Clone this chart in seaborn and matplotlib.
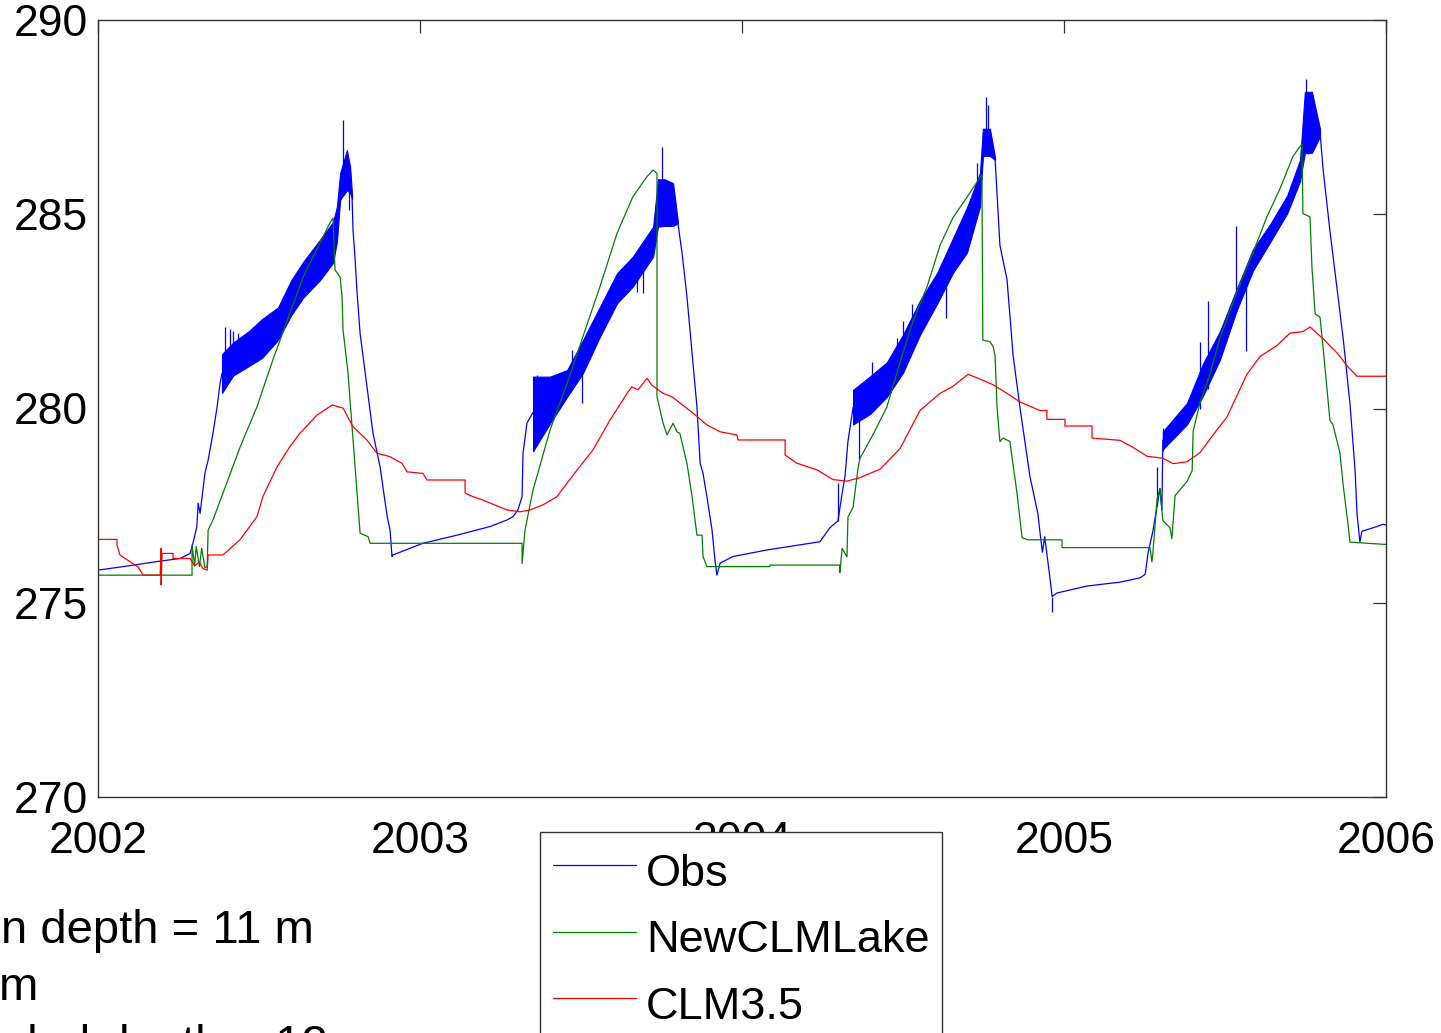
import numpy as np
import pandas as pd
import matplotlib
matplotlib.use("Agg")
import matplotlib.pyplot as plt
import seaborn as sns

# ---------------------------------------------------------------
# Lake temperature at depth (K), 2002-2006
# ---------------------------------------------------------------
obs_t = [2002.000, 2002.078, 2002.183, 2002.255, 2002.286, 2002.295, 2002.307, 2002.311,
         2002.317, 2002.332, 2002.342, 2002.357, 2002.370, 2002.379, 2002.385, 2002.420,
         2002.470, 2002.509, 2002.559, 2002.600, 2002.637, 2002.689, 2002.730, 2002.742,
         2002.752, 2002.773, 2002.783, 2002.789, 2002.792, 2002.798, 2002.804, 2002.814,
         2002.854, 2002.876, 2002.898, 2002.907, 2002.913, 2002.916, 2003.009, 2003.115,
         2003.217, 2003.270, 2003.289, 2003.304, 2003.317, 2003.320, 2003.332, 2003.351,
         2003.404, 2003.457, 2003.506, 2003.559, 2003.612, 2003.661, 2003.724, 2003.739,
         2003.760, 2003.786, 2003.801, 2003.814, 2003.829, 2003.848, 2003.860, 2003.870,
         2003.879, 2003.891, 2003.907, 2003.916, 2003.922, 2003.932, 2003.972, 2004.078,
         2004.180, 2004.242, 2004.273, 2004.298, 2004.311, 2004.320, 2004.329, 2004.345,
         2004.398, 2004.450, 2004.500, 2004.553, 2004.606, 2004.655, 2004.699, 2004.739,
         2004.750, 2004.770, 2004.786, 2004.801, 2004.823, 2004.842, 2004.863, 2004.894,
         2004.919, 2004.925, 2004.933, 2004.940, 2004.957, 2004.963, 2004.978, 2005.071,
         2005.174, 2005.236, 2005.252, 2005.261, 2005.276, 2005.289, 2005.298, 2005.304,
         2005.307, 2005.382, 2005.432, 2005.484, 2005.537, 2005.587, 2005.640, 2005.693,
         2005.733, 2005.748, 2005.770, 2005.795, 2005.804, 2005.826, 2005.848, 2005.867,
         2005.888, 2005.904, 2005.910, 2005.919, 2005.925, 2005.960, 2005.991, 2006.000]
obs_v = [275.84, 275.93, 276.06, 276.14, 276.27, 276.53, 276.96, 277.56,
         277.30, 278.33, 278.67, 279.36, 280.05, 280.65, 280.90, 281.28,
         281.55, 281.80, 282.18, 282.85, 283.31, 283.82, 284.28, 284.75,
         285.70, 286.10, 285.90, 285.44, 284.59, 283.90, 283.05, 281.93,
         279.36, 278.50, 277.22, 276.87, 276.19, 276.23, 276.53, 276.74,
         276.96, 277.13, 277.22, 277.39, 277.73, 278.85, 279.62, 279.90,
         280.22, 280.65, 281.34, 282.24, 283.10, 283.53, 284.30, 285.30,
         285.30, 285.10, 284.77, 283.99, 282.88, 281.16, 280.05, 278.59,
         278.33, 277.73, 276.87, 276.10, 275.71, 276.02, 276.19, 276.36,
         276.49, 276.57, 276.93, 277.11, 277.82, 278.26, 279.15, 280.03,
         280.35, 280.75, 281.41, 282.34, 283.10, 283.94, 284.60, 285.60,
         286.60, 286.90, 286.42, 284.20, 283.32, 281.36, 280.04, 278.26,
         277.29, 276.84, 276.30, 276.70, 275.60, 275.16, 275.25, 275.43,
         275.53, 275.64, 275.73, 276.28, 276.84, 277.48, 277.94, 277.39,
         279.18, 279.87, 280.75, 281.62, 282.82, 283.83, 284.51, 285.25,
         286.13, 287.40, 287.50, 287.13, 286.21, 284.56, 283.09, 281.80,
         280.14, 278.40, 277.29, 276.56, 276.84, 276.93, 277.02, 277.00]

# Daily-cycle envelope of the observations during each warming season
band_2002_t = [2002.385, 2002.420, 2002.470, 2002.509, 2002.559, 2002.600, 2002.637,
               2002.689, 2002.730, 2002.742, 2002.752, 2002.773, 2002.783, 2002.789]
band_2002_lo = [280.40, 280.85, 281.10, 281.30, 281.76, 282.40, 282.85,
                283.30, 283.75, 284.30, 285.37, 285.62, 285.55, 285.40]
band_2002_hi = [281.40, 281.70, 282.00, 282.30, 282.60, 283.30, 283.77,
                284.34, 284.80, 285.20, 286.06, 286.65, 286.22, 285.50]

band_2003_t = [2003.351, 2003.404, 2003.457, 2003.506, 2003.559, 2003.612,
               2003.661, 2003.724, 2003.739, 2003.760, 2003.786, 2003.801]
band_2003_lo = [278.90, 279.62, 280.30, 280.91, 281.85, 282.71,
                283.14, 283.91, 284.68, 284.70, 284.70, 284.77]
band_2003_hi = [280.82, 280.82, 280.99, 281.76, 282.62, 283.48,
                283.91, 284.68, 285.90, 285.90, 285.80, 284.80]

band_2004_t = [2004.345, 2004.398, 2004.450, 2004.500, 2004.553, 2004.606,
               2004.655, 2004.699, 2004.739, 2004.748, 2004.770, 2004.786]
band_2004_lo = [279.59, 279.86, 280.30, 280.92, 281.90, 282.70,
                283.49, 284.02, 285.20, 286.50, 286.50, 286.40]
band_2004_hi = [280.48, 280.83, 281.19, 281.90, 282.78, 283.49,
                284.38, 285.18, 286.06, 287.20, 287.20, 286.45]

band_2005_t = [2005.307, 2005.382, 2005.432, 2005.484, 2005.537, 2005.587,
               2005.640, 2005.693, 2005.733, 2005.748, 2005.770, 2005.795]
band_2005_lo = [278.95, 279.59, 280.33, 281.25, 282.54, 283.55,
                284.28, 285.02, 285.85, 286.58, 286.58, 287.00]
band_2005_hi = [279.41, 280.14, 281.16, 281.98, 283.09, 284.10,
                284.74, 285.48, 286.40, 288.15, 288.15, 287.20]

# Isolated spikes in the observed record
spike_t = [2002.394, 2002.410, 2002.420, 2002.435, 2002.450, 2002.761, 2002.781,
           2003.363, 2003.472, 2003.503, 2003.674, 2003.693, 2003.752, 2003.786,
           2004.298, 2004.363, 2004.404, 2004.481, 2004.500, 2004.528, 2004.634,
           2004.730, 2004.758, 2004.765, 2004.963,
           2005.289, 2005.307, 2005.422, 2005.447, 2005.534, 2005.565, 2005.752, 2005.758]
spike_lo = [281.00, 281.00, 281.20, 281.30, 281.30, 285.80, 285.10,
            279.50, 280.60, 280.13, 283.00, 282.97, 285.50, 285.00,
            277.11, 278.71, 280.30, 280.90, 281.20, 281.90, 282.34,
            285.00, 286.60, 286.60, 274.76,
            277.48, 278.90, 280.00, 280.50, 282.50, 281.48, 287.00, 286.54]
spike_hi = [282.10, 282.05, 282.00, 281.95, 281.85, 287.43, 285.90,
            280.85, 281.51, 281.00, 283.60, 283.90, 286.74, 285.62,
            278.08, 280.30, 281.19, 281.81, 282.25, 282.70, 283.20,
            286.33, 288.01, 287.80, 275.16,
            278.49, 279.50, 281.71, 282.77, 284.70, 283.30, 288.47, 287.50]

new_t = [2002.000, 2002.292, 2002.292, 2002.300, 2002.305, 2002.315, 2002.322, 2002.332,
         2002.339, 2002.342, 2002.357, 2002.388, 2002.441, 2002.494, 2002.543, 2002.596,
         2002.637, 2002.689, 2002.720, 2002.730, 2002.736, 2002.752, 2002.758, 2002.761,
         2002.776, 2002.789, 2002.814, 2002.839, 2002.845, 2003.317, 2003.317, 2003.326,
         2003.351, 2003.404, 2003.457, 2003.506, 2003.559, 2003.612, 2003.661, 2003.705,
         2003.724, 2003.736, 2003.736, 2003.755, 2003.767, 2003.786, 2003.798, 2003.807,
         2003.829, 2003.845, 2003.860, 2003.876, 2003.879, 2003.891, 2004.087, 2004.087,
         2004.304, 2004.304, 2004.311, 2004.326, 2004.329, 2004.345, 2004.360, 2004.366,
         2004.407, 2004.450, 2004.491, 2004.531, 2004.575, 2004.615, 2004.655, 2004.699,
         2004.745, 2004.748, 2004.770, 2004.780, 2004.786, 2004.792, 2004.801, 2004.811,
         2004.832, 2004.854, 2004.870, 2004.888, 2004.994, 2004.994, 2005.267, 2005.273,
         2005.276, 2005.289, 2005.298, 2005.307, 2005.329, 2005.335, 2005.345, 2005.382,
         2005.398, 2005.401, 2005.422, 2005.453, 2005.484, 2005.537, 2005.587, 2005.630,
         2005.671, 2005.711, 2005.739, 2005.742, 2005.764, 2005.770, 2005.780, 2005.795,
         2005.804, 2005.826, 2005.835, 2005.857, 2005.867, 2005.882, 2005.888, 2006.000]
new_v = [275.71, 275.71, 276.49, 275.95, 276.45, 275.93, 276.40, 275.90,
         275.93, 276.87, 277.13, 277.82, 279.00, 280.05, 281.25, 282.45,
         283.38, 284.26, 284.77, 284.90, 283.57, 283.38, 282.87, 282.02,
         280.95, 279.53, 276.79, 276.70, 276.53, 276.53, 276.01, 276.87,
         277.90, 279.45, 280.65, 281.85, 283.14, 284.51, 285.45, 285.97,
         286.14, 286.05, 280.30, 279.62, 279.32, 279.62, 279.40, 279.36,
         278.59, 277.73, 276.74, 276.74, 276.19, 275.93, 275.93, 275.97,
         275.97, 275.78, 276.40, 276.18, 277.20, 277.46, 278.44, 278.71,
         279.33, 280.04, 281.19, 282.25, 283.14, 284.20, 284.91, 285.44,
         286.02, 281.76, 281.72, 281.59, 281.36, 280.04, 279.15, 279.24,
         279.15, 277.82, 276.67, 276.62, 276.62, 276.42, 276.42, 276.05,
         276.28, 277.66, 277.94, 277.11, 276.93, 276.65, 277.76, 278.12,
         278.40, 279.41, 280.14, 280.88, 281.80, 283.00, 284.01, 284.93,
         285.66, 286.49, 286.81, 285.02, 284.93, 283.64, 282.44, 282.35,
         281.62, 279.69, 279.59, 278.86, 278.03, 277.02, 276.56, 276.50]

clm_t = [2002.000, 2002.059, 2002.059, 2002.068, 2002.106, 2002.124, 2002.140, 2002.193,
         2002.196, 2002.196, 2002.199, 2002.233, 2002.233, 2002.286, 2002.300, 2002.315,
         2002.325, 2002.339, 2002.342, 2002.388, 2002.441, 2002.494, 2002.512, 2002.556,
         2002.596, 2002.627, 2002.680, 2002.727, 2002.761, 2002.792, 2002.835, 2002.866,
         2002.907, 2002.944, 2002.960, 2003.009, 2003.022, 2003.140, 2003.140, 2003.165,
         2003.196, 2003.270, 2003.311, 2003.342, 2003.382, 2003.425, 2003.488, 2003.537,
         2003.590, 2003.643, 2003.658, 2003.677, 2003.705, 2003.720, 2003.755, 2003.783,
         2003.848, 2003.891, 2003.932, 2003.984, 2003.988, 2004.134, 2004.134, 2004.171,
         2004.233, 2004.283, 2004.326, 2004.366, 2004.429, 2004.491, 2004.553, 2004.615,
         2004.655, 2004.702, 2004.730, 2004.780, 2004.823, 2004.863, 2004.925, 2004.947,
         2004.947, 2005.003, 2005.003, 2005.087, 2005.087, 2005.174, 2005.214, 2005.258,
         2005.307, 2005.339, 2005.382, 2005.422, 2005.463, 2005.506, 2005.568, 2005.609,
         2005.661, 2005.702, 2005.742, 2005.764, 2005.804, 2005.848, 2005.882, 2005.910,
         2006.000]
clm_v = [276.63, 276.63, 276.49, 276.23, 276.02, 275.93, 275.71, 275.71,
         276.40, 275.46, 276.27, 276.27, 276.14, 276.14, 275.95, 276.05,
         275.88, 275.84, 276.23, 276.23, 276.62, 277.22, 277.73, 278.50,
         279.02, 279.36, 279.83, 280.09, 280.01, 279.53, 279.19, 278.85,
         278.76, 278.59, 278.37, 278.33, 278.16, 278.16, 277.82, 277.73,
         277.64, 277.39, 277.34, 277.39, 277.52, 277.73, 278.42, 278.93,
         279.70, 280.39, 280.56, 280.48, 280.78, 280.60, 280.39, 280.30,
         279.88, 279.58, 279.40, 279.32, 279.19, 279.19, 278.80, 278.59,
         278.42, 278.17, 278.13, 278.22, 278.44, 278.97, 279.95, 280.39,
         280.57, 280.88, 280.79, 280.61, 280.39, 280.17, 279.95, 279.95,
         279.72, 279.72, 279.55, 279.55, 279.24, 279.18, 279.00, 278.77,
         278.72, 278.58, 278.63, 278.86, 279.32, 279.78, 280.88, 281.34,
         281.62, 281.94, 281.98, 282.10, 281.80, 281.43, 281.07, 280.83,
         280.83]

series_names = ["Obs", "NewCLMLake", "CLM3.5"]
series_colors = ["#0000ff", "#007f00", "#ff0000"]
x_ticks = [2002, 2003, 2004, 2005, 2006]
y_ticks = [270, 275, 280, 285, 290]
note_lines = ["n depth = 11 m", "m", "Modeled depth = 12 m"]

# ---------------------------------------------------------------
df = pd.concat([
    pd.DataFrame({"year": obs_t, "temp": obs_v, "series": series_names[0]}),
    pd.DataFrame({"year": new_t, "temp": new_v, "series": series_names[1]}),
    pd.DataFrame({"year": clm_t, "temp": clm_v, "series": series_names[2]}),
], ignore_index=True)

sns.set_style("white")
plt.rcParams["font.family"] = ["Liberation Sans", "DejaVu Sans"]
plt.rcParams["text.color"] = "black"
plt.rcParams["axes.labelcolor"] = "black"
plt.rcParams["xtick.color"] = "black"
plt.rcParams["ytick.color"] = "black"

W, H = 1441, 1033
fig = plt.figure(figsize=(W / 100, H / 100), dpi=100)
ax = fig.add_axes([98 / W, 1 - 797 / H, 1288 / W, 777 / H])

palette = dict(zip(series_names, series_colors))
sns.lineplot(data=df, x="year", y="temp", hue="series", hue_order=series_names,
             palette=palette, estimator=None, sort=False, linewidth=0.9, ax=ax)

# observed daily-cycle bands and spikes
for bt, blo, bhi in [(band_2002_t, band_2002_lo, band_2002_hi),
                     (band_2003_t, band_2003_lo, band_2003_hi),
                     (band_2004_t, band_2004_lo, band_2004_hi),
                     (band_2005_t, band_2005_lo, band_2005_hi)]:
    ax.fill_between(bt, blo, bhi, color=series_colors[0], lw=0.8, zorder=1.9)
ax.vlines(spike_t, spike_lo, spike_hi, colors=series_colors[0], lw=0.9, zorder=1.9)

ax.set_xlim(2002, 2006)
ax.set_ylim(270, 290)
ax.set_xticks(x_ticks)
ax.set_xticklabels([str(v) for v in x_ticks])
ax.set_yticks(y_ticks)
ax.set_yticklabels([str(v) for v in y_ticks])
ax.set_xlabel("")
ax.set_ylabel("")
for sp in ax.spines.values():
    sp.set_visible(True)
    sp.set_color("#333333")
    sp.set_linewidth(1.0)
ax.tick_params(direction="in", length=9.5, width=0.9, color="#333333",
               top=True, right=True, labelsize=32, labelcolor="black")
ax.tick_params(axis="x", pad=17.5)
ax.tick_params(axis="y", pad=7)

handles, labels = ax.get_legend_handles_labels()
leg = ax.legend(handles, labels, loc="upper left",
                bbox_to_anchor=(540 / W, 1 - 832 / H), bbox_transform=fig.transFigure,
                frameon=True, fancybox=False, edgecolor="#333333", framealpha=1,
                fontsize=32.5, handlelength=1.85, handleheight=1.4, handletextpad=0.22,
                borderpad=0.28, labelspacing=0.32, borderaxespad=0)
leg.get_frame().set_linewidth(1.0)
for ln in leg.get_lines():
    ln.set_linewidth(0.9)
for tx in leg.get_texts():
    tx.set_color("black")

fig.text(314 / W, 1 - 943 / H, note_lines[0], ha="right", va="baseline", fontsize=34)
fig.text(38 / W, 1 - 1000 / H, note_lines[1], ha="right", va="baseline", fontsize=34)
fig.text(380 / W, 1 - 1058 / H, note_lines[2], ha="right", va="baseline", fontsize=34)

fig.savefig("out.png", dpi=100)
